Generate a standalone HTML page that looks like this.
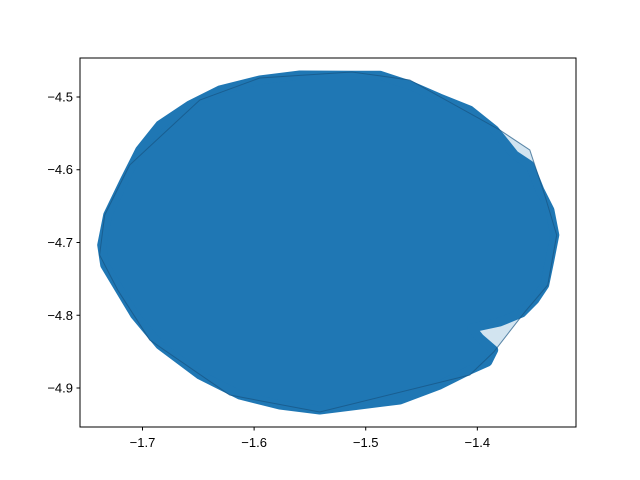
<!DOCTYPE html>
<html><head><meta charset="utf-8"><style>
body{margin:0;background:#fff}
svg{display:block;font-family:"Liberation Sans","DejaVu Sans",sans-serif}
</style></head><body>
<svg id="chart" width="640" height="480">
<rect width="640" height="480" fill="#fff"/>
<g id="plot"></g>
<rect x="80" y="58" width="496" height="369" fill="none" stroke="#000" stroke-width="1"/>
<g id="axes"></g>
</svg>
<script>
const blobX=[-1.5125,-1.4875,-1.4606,-1.4337,-1.4068,-1.3844,-1.3665,-1.353,-1.344,-1.335,-1.3306,-1.335,-1.3396,-1.3486,-1.3602,-1.3799,-1.405,-1.3978,-1.3853,-1.3907,-1.4068,-1.4337,-1.4695,-1.5054,-1.5412,-1.5771,-1.6129,-1.6487,-1.6846,-1.707,-1.7204,-1.7339,-1.7366,-1.7312,-1.716,-1.7025,-1.6846,-1.6577,-1.6308,-1.595,-1.5591];
const blobY=[-4.470,-4.470,-4.4835,-4.5014,-4.5179,-4.5454,-4.5797,-4.5935,-4.6278,-4.6553,-4.6897,-4.724,-4.7584,-4.779,-4.7969,-4.8093,-4.8175,-4.8313,-4.8478,-4.8643,-4.8753,-4.8959,-4.9165,-4.9234,-4.9302,-4.9234,-4.9096,-4.8821,-4.8409,-4.7997,-4.7653,-4.7309,-4.7034,-4.6622,-4.6141,-4.5729,-4.5385,-4.511,-4.4904,-4.4766,-4.4698];
const hullX=[-1.5125,-1.4606,-1.3799,-1.353,-1.3396,-1.3289,-1.3369,-1.3575,-1.3853,-1.4068,-1.5412,-1.6219,-1.6935,-1.7222,-1.7384,-1.7339,-1.7115,-1.6487,-1.595];
const hullY=[-4.4656,-4.4766,-4.5454,-4.5729,-4.6347,-4.6897,-4.7584,-4.7955,-4.8505,-4.8821,-4.933,-4.9096,-4.834,-4.7653,-4.7172,-4.6622,-4.5935,-4.5041,-4.4739];
const xTicks=[-1.7,-1.6,-1.5,-1.4];
const xTickLabels=["\u22121.7","\u22121.6","\u22121.5","\u22121.4"];
const yTicks=[-4.5,-4.6,-4.7,-4.8,-4.9];
const yTickLabels=["\u22124.5","\u22124.6","\u22124.7","\u22124.8","\u22124.9"];
const X0=-1.756,X1=-1.3116,Y0=-4.9536,Y1=-4.4464;
function sx(v){return 80+(v-X0)/(X1-X0)*496;}
function sy(v){return 427-(v-Y0)/(Y1-Y0)*369;}
const NS="http://www.w3.org/2000/svg";
const plot=document.getElementById('plot'),axes=document.getElementById('axes');
function pts(xs,ys){return xs.map((x,i)=>sx(x).toFixed(1)+','+sy(ys[i]).toFixed(1)).join(' ');}
const hf=document.createElementNS(NS,'polygon');
hf.setAttribute('points',pts(hullX,hullY));
hf.setAttribute('fill','rgba(31,119,180,0.2)');
hf.setAttribute('stroke','rgba(31,119,180,0.35)');
hf.setAttribute('stroke-width','1');


plot.appendChild(hf);
const bl=document.createElementNS(NS,'polygon');
bl.setAttribute('points',pts(blobX,blobY));
bl.setAttribute('fill','#1f77b4');
bl.setAttribute('stroke','#1f77b4');
bl.setAttribute('stroke-width','9');
bl.setAttribute('stroke-linejoin','round');


plot.appendChild(bl);
const he=document.createElementNS(NS,'polygon');
he.setAttribute('points',pts(hullX,hullY));
he.setAttribute('fill','none');
he.setAttribute('stroke','rgba(20,70,110,0.5)');
he.setAttribute('stroke-width','1');


plot.appendChild(he);
xTicks.forEach((v,i)=>{
  const x=sx(v);
  const l=document.createElementNS(NS,'line');
  l.setAttribute('x1',x);l.setAttribute('x2',x);l.setAttribute('y1',427);l.setAttribute('y2',430.5);
  l.setAttribute('stroke','#000');
  
  
  axes.appendChild(l);
  const t=document.createElementNS(NS,'text');
  t.setAttribute('x',x);t.setAttribute('y',447);t.setAttribute('text-anchor','middle');t.setAttribute('font-size','13');
  t.textContent=xTickLabels[i];
  
  
  axes.appendChild(t);
});
yTicks.forEach((v,i)=>{
  const y=sy(v);
  const l=document.createElementNS(NS,'line');
  l.setAttribute('x1',76.5);l.setAttribute('x2',80);l.setAttribute('y1',y);l.setAttribute('y2',y);
  l.setAttribute('stroke','#000');
  
  
  axes.appendChild(l);
  const t=document.createElementNS(NS,'text');
  t.setAttribute('x',73);t.setAttribute('y',y+4.5);t.setAttribute('text-anchor','end');t.setAttribute('font-size','13');
  t.textContent=yTickLabels[i];
  
  
  axes.appendChild(t);
});
</script>
</body></html>
